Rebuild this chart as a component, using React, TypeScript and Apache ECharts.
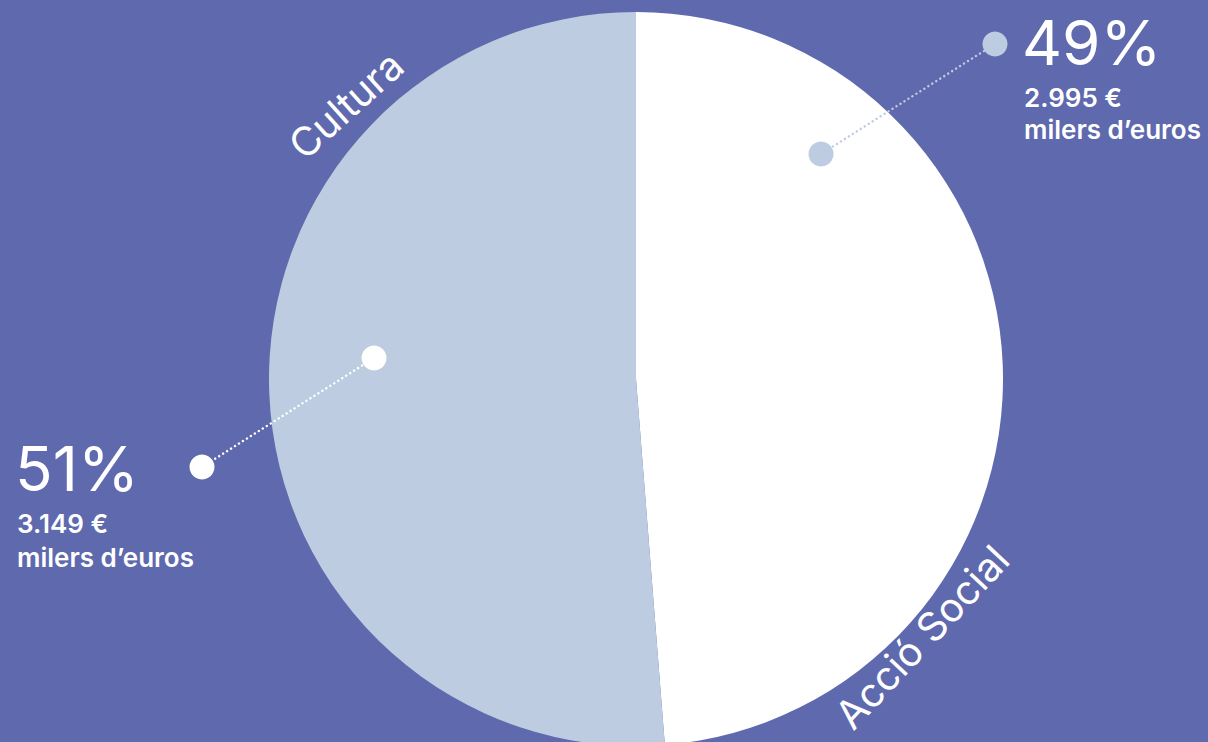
import React, { useEffect, useRef } from "react";
import * as echarts from "echarts";

const categories = ["Acció Social", "Cultura"];
const values = [2995, 3149]; // milers d'euros
const sliceColors = ["#FFFFFF", "#BDCCE0"];
const unitLabel = "milers d\u2019euros";

const BG = "#5F69AE";
const FONT = "Inter, 'Noto Sans', sans-serif";

function fmt(v: number): string {
  return v.toString().replace(/\B(?=(\d{3})+(?!\d))/g, ".") + " \u20AC";
}

export default function App() {
  const ref = useRef<HTMLDivElement>(null);
  useEffect(() => {
    if (!ref.current) return;
    const chart = echarts.init(ref.current, null, { renderer: "svg" });
    const total = values.reduce((a, b) => a + b, 0);
    const pct = values.map((v) => Math.round((v / total) * 100) + "%");

    const dotted = (x1: number, y1: number, x2: number, y2: number, color: string) => ({
      type: "line",
      shape: { x1, y1, x2, y2 },
      style: { stroke: color, lineWidth: 2.4, lineDash: [0.1, 4.6], lineCap: "round" },
      z: 10,
    });
    const dot = (cx: number, cy: number, color: string) => ({
      type: "circle",
      shape: { cx, cy, r: 12.5 },
      style: { fill: color },
      z: 11,
    });
    const txt = (x: number, y: number, text: string, size: number, weight: number | string, extra: any = {}) => ({
      type: "text",
      x,
      y,
      z: 12,
      ...extra,
      style: {
        text,
        fill: "#FFFFFF",
        font: `${weight} ${size}px ${FONT}`,
        align: extra.align || "left",
        verticalAlign: "middle",
      },
    });

    chart.setOption({
      animation: false,
      backgroundColor: BG,
      series: [
        {
          type: "pie",
          center: [636, 379],
          radius: 367,
          startAngle: 90,
          clockwise: true,
          silent: true,
          label: { show: false },
          labelLine: { show: false },
          itemStyle: { borderWidth: 0 },
          data: categories.map((name, i) => ({
            name,
            value: values[i],
            itemStyle: { color: sliceColors[i] },
          })),
        },
      ],
      graphic: [
        dotted(821, 154, 995, 44, sliceColors[1]),
        dot(821, 154, sliceColors[1]),
        dot(995, 44, sliceColors[1]),
        dotted(374, 358, 202, 467, "#FFFFFF"),
        dot(374, 358, "#FFFFFF"),
        dot(202, 467, "#FFFFFF"),
        txt(1022, 42, pct[0], 62, 400),
        txt(1024, 97, fmt(values[0]), 26, 600),
        txt(1024, 129, unitLabel, 26, 600),
        txt(15, 468, pct[1], 62, 400),
        txt(17, 523, fmt(values[1]), 26, 600),
        txt(17, 557, unitLabel, 26, 600),
        {
          ...txt(0, 0, categories[1], 40, 400, { align: "center" }),
          x: 346,
          y: 105,
          rotation: (42 * Math.PI) / 180,
        },
        {
          ...txt(0, 0, categories[0], 40, 400, { align: "center" }),
          x: 922,
          y: 637,
          rotation: (47 * Math.PI) / 180,
        },
      ],
    });
    return () => chart.dispose();
  }, []);
  return (
    <div
      ref={ref}
      style={{ position: "fixed", left: 0, top: 0, width: 1208, height: 742 }}
    />
  );
}
